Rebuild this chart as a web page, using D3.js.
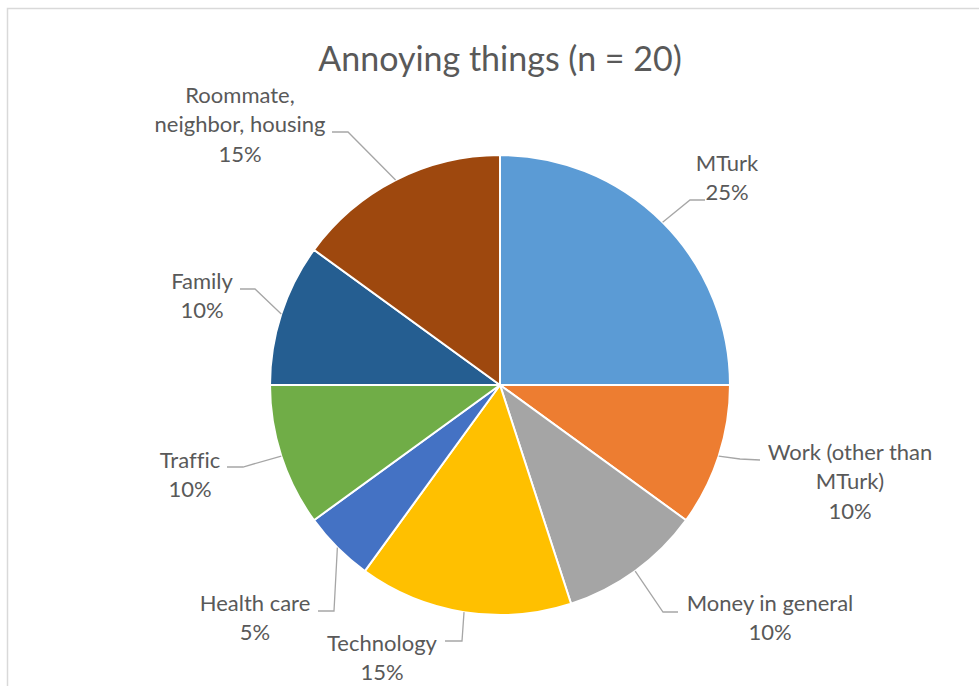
<!DOCTYPE html>
<html><head><meta charset="utf-8">
<script src="https://cdn.jsdelivr.net/npm/d3@7"></script>
<style>body{margin:0;background:#fff}svg{display:block}text{font-family:Lato,"Open Sans",sans-serif;fill:#595959;font-variant-ligatures:none;font-feature-settings:"liga" 0}</style>
</head><body>
<svg id="c" width="979" height="686"></svg>
<script>
const categories = ["MTurk", "Work (other than MTurk)", "Money in general", "Technology", "Health care", "Traffic", "Family", "Roommate, neighbor, housing"];
const values = [25, 10, 10, 15, 5, 10, 10, 15];
const colors = ["#5B9BD5", "#ED7D31", "#A5A5A5", "#FFC000", "#4472C4", "#70AD47", "#255E91", "#9E480E"];
const labelLines = [["MTurk"], ["Work (other than", "MTurk)"], ["Money in general"], ["Technology"], ["Health care"], ["Traffic"], ["Family"], ["Roommate,", "neighbor, housing"]];
const title = "Annoying things (n = 20)";

// layout (pixels): label text center of first line, leader elbow & end
const labelLayout = [
  {tx: 727, ty: 162, elbow: [690, 200], end: [705, 200]},
  {tx: 850, ty: 451, elbow: [740, 459], end: [760, 460]},
  {tx: 770, ty: 602, elbow: [663, 612], end: [678, 612]},
  {tx: 382, ty: 642, elbow: [462, 641], end: [445, 641]},
  {tx: 255, ty: 602, elbow: [334, 611], end: [318, 611]},
  {tx: 190, ty: 459, elbow: [243, 467], end: [227, 467]},
  {tx: 202, ty: 280, elbow: [255, 289], end: [240, 289]},
  {tx: 240, ty: 94, elbow: [348, 132], end: [332, 132]}
];

const svg = d3.select("#c");
const W = 979, H = 686;
// chart frame
svg.append("path").attr("d", `M7.5,${H} V8.5 H${W}`).attr("fill", "none").attr("stroke", "#d9d9d9").attr("stroke-width", 1.5);

svg.append("text").attr("x", 500).attr("y", 57).attr("text-anchor", "middle").attr("dominant-baseline", "central")
  .style("font-size", "34px").text(title);

const cx = 500, cy = 385, R = 230;
const g = svg.append("g").attr("transform", `translate(${cx},${cy})`);
const pie = d3.pie().sort(null).value(d => d)(values);
const arc = d3.arc().innerRadius(0).outerRadius(R);
const edge = d3.arc().innerRadius(R).outerRadius(R);

g.selectAll("path.s").data(pie).join("path").attr("class", "s")
  .attr("d", arc).attr("fill", (d, i) => colors[i]).attr("stroke", "#fff").attr("stroke-width", 2);

const total = d3.sum(values);
pie.forEach((d, i) => {
  const p = edge.centroid(d);
  const L = labelLayout[i];
  svg.append("polyline")
    .attr("points", [[p[0] + cx, p[1] + cy], L.elbow, L.end].map(q => q.join(",")).join(" "))
    .attr("fill", "none").attr("stroke", "#a6a6a6").attr("stroke-width", 1.3);
  const lines = labelLines[i].concat([Math.round(values[i] / total * 100) + "%"]);
  const t = svg.append("text").attr("text-anchor", "middle").style("font-size", "22px");
  lines.forEach((s, k) => {
    t.append("tspan").attr("x", L.tx).attr("y", L.ty + k * 29.5).attr("dominant-baseline", "central").text(s);
  });
});
</script>
</body></html>
